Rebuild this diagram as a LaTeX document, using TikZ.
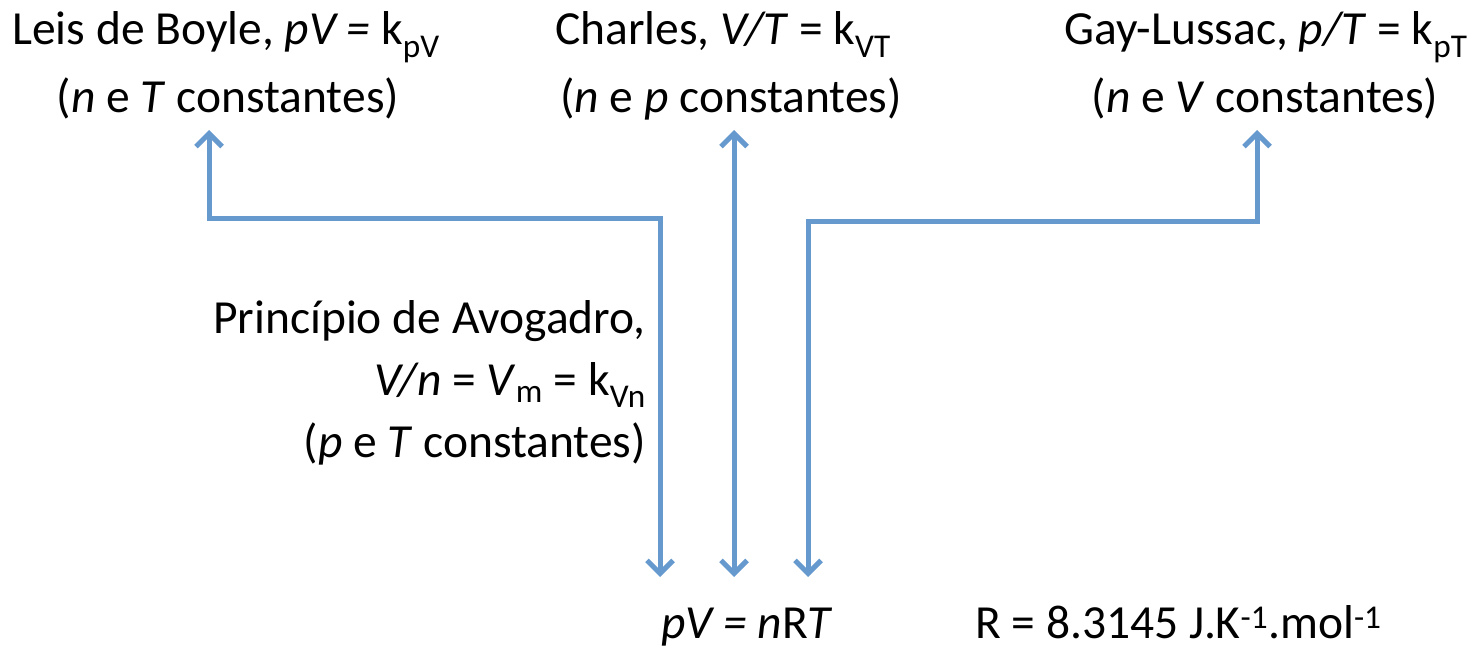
\documentclass[tikz,border=0pt]{standalone}
\usepackage{fontspec}
\setmainfont{Carlito}
\usetikzlibrary{arrows.meta}
\definecolor{linkblue}{RGB}{102,153,206}
\tikzset{
  x=1pt, y=-1pt,
  lbl/.style={inner sep=0pt, font=\fontsize{47.5}{57}\selectfont, anchor=base},
  conn/.style={draw=linkblue, line width=5pt, line join=miter,
    {Straight Barb[length=13pt, width=26pt]}-{Straight Barb[length=13pt, width=26pt]}},
}
\begin{document}
\begin{tikzpicture}
\useasboundingbox (0,0) rectangle (1482,650);
% top labels
\node[lbl] (boyleA) at (226,45) {Leis de Boyle, \textit{pV =} k\textsubscript{pV}};
\node[lbl] (boyleB) at (228,113) {(\textit{n} e \textit{T} constantes)};
\node[lbl] (charlesA) at (723,45) {Charles, \textit{V/T} = k\textsubscript{VT}};
\node[lbl] (charlesB) at (731,113) {(\textit{n} e \textit{p} constantes)};
\node[lbl] (gayA) at (1266,45) {Gay-Lussac, \textit{p/T} = k\textsubscript{pT}};
\node[lbl] (gayB) at (1265,113) {(\textit{n} e \textit{V} constantes)};
% Avogadro
\node[lbl, anchor=base east] (avoA) at (646,333) {Princípio de Avogadro,};
\node[lbl, anchor=base east] (avoB) at (646,395) {\textit{V/n} = \textit{V}\textsubscript{m} = k\textsubscript{Vn}};
\node[lbl, anchor=base east] (avoC) at (646,457) {(\textit{p} e \textit{T} constantes)};
% bottom
\node[lbl] (eq) at (747,638) {\textit{pV = n}R\textit{T}};
\node[lbl, anchor=base west] (R) at (975,638) {R = 8.3145 J.K\textsuperscript{-1}.mol\textsuperscript{-1}};
% connector end points
\coordinate (bTop) at (209,130);
\coordinate (cTop) at (734,130);
\coordinate (gTop) at (1257,130);
\coordinate (eL) at (660,577);
\coordinate (eM) at (734,577);
\coordinate (eR) at (808,577);
\draw[conn] (bTop) -- (209,218) -- (660,218) -- (eL);
\draw[conn] (cTop) -- (eM);
\draw[conn] (gTop) -- (1257,221) -- (808,221) -- (eR);
\end{tikzpicture}
\end{document}
